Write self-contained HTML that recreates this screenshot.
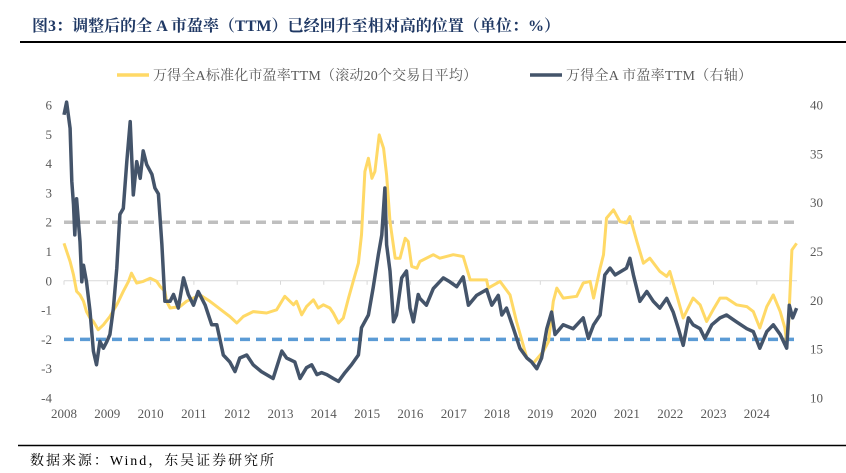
<!DOCTYPE html>
<html>
<head>
<meta charset="utf-8">
<style>
  html,body{margin:0;padding:0;background:#fff;}
  body{width:846px;height:468px;overflow:hidden;}
  svg text{font-family:"Liberation Serif","Noto Serif CJK SC","Noto Sans CJK SC",serif;}
</style>
</head>
<body>
<svg id="chart" width="846" height="468" viewBox="0 0 846 468" xmlns="http://www.w3.org/2000/svg">
  <text x="32" y="31" font-size="16" font-weight="bold" fill="#1f3864" textLength="528" lengthAdjust="spacing">图3：调整后的全 A 市盈率（TTM）已经回升至相对高的位置（单位：%）</text>
  <line x1="20" y1="42" x2="846" y2="42" stroke="#000" stroke-width="2"/>
  <g>
    <line x1="117" y1="75" x2="149" y2="75" stroke="#ffd966" stroke-width="3.5"/>
    <text x="153" y="80" font-size="14" fill="#595959" textLength="324" lengthAdjust="spacing">万得全A标准化市盈率TTM（滚动20个交易日平均）</text>
    <line x1="530" y1="75" x2="562" y2="75" stroke="#44546a" stroke-width="3.5"/>
    <text x="566" y="80" font-size="14" fill="#595959" textLength="186" lengthAdjust="spacing">万得全A 市盈率TTM（右轴）</text>
  </g>
  <g id="grid"></g>
  <g id="axes"></g>
  <g id="series"></g>
  <line x1="18" y1="445.5" x2="846" y2="445.5" stroke="#000" stroke-width="1.5"/>
  <text x="30" y="465" font-size="14" fill="#000" textLength="244" lengthAdjust="spacing">数据来源：Wind，东吴证券研究所</text>
</svg>
<script>
// ---- data ----
const yearTicks = [2008,2009,2010,2011,2012,2013,2014,2015,2016,2017,2018,2019,2020,2021,2022,2023,2024];
const leftTicks = [6,5,4,3,2,1,0,-1,-2,-3,-4];
const rightTicks = [40,35,30,25,20,15,10];
const upperBand = 2;
const lowerBand = -2;
const stdDates = [2008.0,2008.14,2008.22,2008.29,2008.37,2008.45,2008.52,2008.6,2008.68,2008.79,2008.91,2009.06,2009.22,2009.37,2009.49,2009.56,2009.68,2009.83,2009.99,2010.14,2010.22,2010.33,2010.37,2010.45,2010.68,2010.83,2011.14,2011.37,2011.53,2011.68,2011.83,2011.99,2012.14,2012.37,2012.68,2012.91,2013.1,2013.3,2013.37,2013.49,2013.6,2013.76,2013.87,2013.99,2014.14,2014.22,2014.34,2014.45,2014.57,2014.68,2014.8,2014.87,2014.95,2015.03,2015.11,2015.18,2015.28,2015.38,2015.45,2015.53,2015.65,2015.76,2015.88,2015.95,2016.03,2016.15,2016.22,2016.53,2016.68,2016.99,2017.22,2017.38,2017.76,2017.8,2018.07,2018.3,2018.45,2018.69,2018.84,2019.07,2019.19,2019.3,2019.38,2019.53,2019.84,2019.99,2020.15,2020.23,2020.38,2020.46,2020.53,2020.69,2020.84,2020.99,2021.07,2021.23,2021.38,2021.53,2021.76,2021.92,2021.99,2022.15,2022.3,2022.53,2022.69,2022.84,2022.99,2023.15,2023.3,2023.53,2023.77,2023.92,2024.07,2024.23,2024.38,2024.54,2024.65,2024.69,2024.73,2024.81,2024.92];
const stdValues = [1.28,0.66,0.2,-0.36,-0.48,-0.7,-1.05,-1.27,-1.39,-1.67,-1.5,-1.22,-0.82,-0.36,-0.02,0.26,-0.08,-0.02,0.09,-0.02,-0.19,-0.36,-0.7,-0.93,-0.88,-0.7,-0.48,-0.7,-0.88,-1.05,-1.22,-1.44,-1.22,-1.05,-1.1,-0.99,-0.53,-0.82,-0.7,-1.16,-0.88,-0.65,-0.93,-0.82,-0.93,-1.1,-1.44,-1.27,-0.59,-0.02,0.6,1.57,3.73,4.18,3.5,3.73,4.98,4.52,3.61,2.02,0.77,0.77,1.45,1.34,0.49,0.43,0.66,0.89,0.77,0.89,0.83,0.03,0.03,-0.25,-0.02,-0.48,-1.39,-2.64,-2.81,-2.41,-2.07,-0.7,-0.25,-0.59,-0.53,-0.08,-0.02,-0.59,0.43,0.89,2.14,2.42,2.02,1.97,2.19,1.34,0.6,0.77,0.32,0.15,0.32,-0.48,-1.27,-0.59,-0.82,-1.39,-0.99,-0.59,-0.59,-0.82,-0.88,-1.05,-1.61,-0.88,-0.48,-1.05,-1.61,-2.13,-1.61,1.05,1.28];
const peDates = [2008.0,2008.06,2008.14,2008.18,2008.22,2008.25,2008.29,2008.37,2008.41,2008.45,2008.52,2008.6,2008.68,2008.75,2008.83,2008.91,2008.99,2009.06,2009.14,2009.22,2009.29,2009.37,2009.45,2009.53,2009.6,2009.68,2009.76,2009.83,2009.91,2010.03,2010.1,2010.18,2010.26,2010.33,2010.45,2010.53,2010.64,2010.76,2010.87,2010.99,2011.1,2011.26,2011.41,2011.53,2011.68,2011.83,2011.95,2012.06,2012.22,2012.37,2012.56,2012.83,2013.03,2013.14,2013.33,2013.45,2013.6,2013.72,2013.84,2013.95,2014.07,2014.22,2014.34,2014.49,2014.64,2014.8,2014.87,2015.03,2015.14,2015.26,2015.34,2015.41,2015.45,2015.53,2015.61,2015.68,2015.8,2015.91,2015.99,2016.07,2016.18,2016.22,2016.37,2016.53,2016.76,2016.91,2017.07,2017.22,2017.34,2017.53,2017.76,2017.88,2018.03,2018.11,2018.22,2018.38,2018.53,2018.69,2018.8,2018.92,2019.03,2019.15,2019.26,2019.34,2019.53,2019.76,2019.99,2020.11,2020.23,2020.38,2020.49,2020.61,2020.73,2020.84,2020.99,2021.07,2021.15,2021.3,2021.46,2021.61,2021.76,2021.92,2022.07,2022.19,2022.3,2022.42,2022.53,2022.69,2022.8,2022.96,2023.15,2023.3,2023.53,2023.77,2023.92,2024.07,2024.23,2024.38,2024.54,2024.69,2024.75,2024.83,2024.92];
const peValues = [39.0,40.3,37.6,32.2,29.8,26.7,30.4,26.0,21.9,23.6,21.9,18.9,14.8,13.4,15.8,15.1,15.8,16.5,19.2,23.3,28.8,29.4,34.2,38.3,30.8,34.2,32.5,35.3,33.9,32.9,31.5,30.9,25.7,19.9,19.9,20.6,19.2,22.3,20.6,19.5,20.9,19.5,17.5,17.5,14.4,13.7,12.7,14.1,14.4,13.4,12.7,12.0,14.8,14.1,13.7,12.0,13.1,13.4,12.4,12.6,12.4,12.0,11.7,12.6,13.4,14.4,17.2,18.5,21.3,24.7,26.7,31.5,25.7,23.0,17.8,18.5,22.3,23.0,19.2,17.8,20.6,20.2,19.5,21.2,22.3,21.9,21.4,22.4,19.5,20.5,21.1,19.5,20.5,18.5,19.2,17.1,15.1,14.1,13.7,13.0,14.1,17.1,18.8,16.5,17.5,17.1,18.2,16.1,17.5,18.5,22.6,23.3,22.6,22.9,23.3,24.3,22.6,19.9,20.9,19.9,19.2,20.2,18.8,17.1,15.4,18.2,17.5,17.1,16.1,17.5,18.2,18.5,17.8,17.1,16.8,15.1,16.8,17.5,16.5,15.1,19.5,18.2,19.2];

// ---- axis functions ----
const X0 = 64, PX_PER_YEAR = 43.3;
const Y_TOP = 105, Y_BOT = 398;
function xOf(t){ return X0 + (t - 2008) * PX_PER_YEAR; }
function yLeft(v){ return Y_BOT - (v - (-4)) / 10 * (Y_BOT - Y_TOP); }
function yRight(v){ return Y_BOT - (v - 10) / 30 * (Y_BOT - Y_TOP); }

const NS = "http://www.w3.org/2000/svg";
function mk(tag, attrs, parent){
  const el = document.createElementNS(NS, tag);
  for (const k in attrs) el.setAttribute(k, attrs[k]);
  parent.appendChild(el);
  return el;
}
const grid = document.getElementById('grid');
const axes = document.getElementById('axes');
const series = document.getElementById('series');

const zl = mk('line', {x1: X0, x2: 797, y1: yLeft(0), y2: yLeft(0), stroke: '#d9d9d9', 'stroke-width': 1}, grid);


yearTicks.forEach(function(yr){
  const tk = mk('line', {x1: xOf(yr), x2: xOf(yr), y1: yLeft(0), y2: yLeft(0) + 4, stroke: '#d9d9d9', 'stroke-width': 1}, grid);
  
  
});

leftTicks.forEach(function(v){
  const t = mk('text', {x: 52, y: yLeft(v) + 4.5, 'text-anchor': 'end', 'font-size': 13, fill: '#595959'}, axes);
  t.textContent = String(v);
  
  
});
rightTicks.forEach(function(v){
  const t = mk('text', {x: 810, y: yRight(v) + 4.5, 'font-size': 13, fill: '#595959'}, axes);
  t.textContent = String(v);
  
  
});
yearTicks.forEach(function(yr){
  const t = mk('text', {x: xOf(yr), y: 418, 'text-anchor': 'middle', 'font-size': 13, fill: '#595959'}, axes);
  t.textContent = String(yr);
  
  
});

const ub = mk('line', {x1: X0, x2: 797, y1: yLeft(upperBand), y2: yLeft(upperBand), stroke: '#bfbfbf', 'stroke-width': 3.5, 'stroke-dasharray': '10 6'}, series);


const lb = mk('line', {x1: X0, x2: 797, y1: yLeft(lowerBand), y2: yLeft(lowerBand), stroke: '#5b9bd5', 'stroke-width': 3.5, 'stroke-dasharray': '10 6'}, series);



function pathFrom(dates, vals, yf){
  return dates.map(function(d, i){ return (i ? 'L' : 'M') + xOf(d).toFixed(1) + ',' + yf(vals[i]).toFixed(1); }).join(' ');
}
const stdLine = mk('path', {d: pathFrom(stdDates, stdValues, yLeft), fill: 'none', stroke: '#ffd966', 'stroke-width': 3, 'stroke-linejoin': 'round'}, series);


const peLine = mk('path', {d: pathFrom(peDates, peValues, yRight), fill: 'none', stroke: '#44546a', 'stroke-width': 3.5, 'stroke-linejoin': 'round'}, series);


</script>
</body>
</html>
